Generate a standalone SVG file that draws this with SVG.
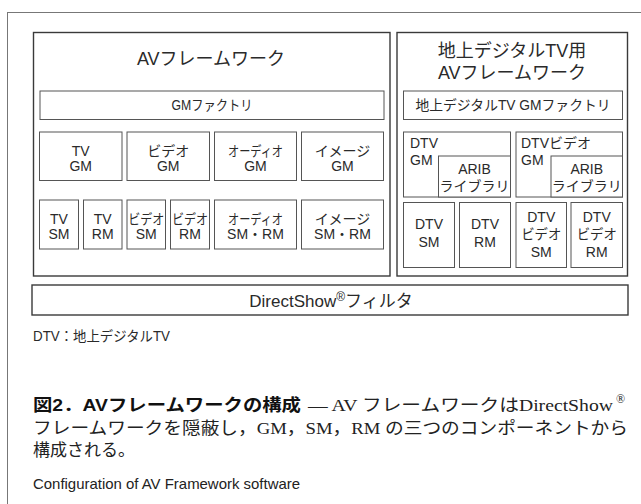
<svg xmlns="http://www.w3.org/2000/svg" width="641" height="504" viewBox="0 0 641 504">
<style>
.frame{fill:none;stroke:#777;stroke-width:1}
.big{fill:#fff;stroke:#3a3a3a;stroke-width:1.4}
.box{fill:#fff;stroke:#555;stroke-width:1}
text{font-family:"Liberation Sans","Noto Sans CJK JP",sans-serif;fill:#2a2a2a}
.t14{font-size:14px;text-anchor:middle}
.t14l{font-size:14px;text-anchor:start}
.title{font-size:18px;text-anchor:middle}
.cap{font-family:"Liberation Serif","Noto Sans CJK JP",serif;font-size:17px;fill:#222}
.capb{font-family:"Liberation Sans","Noto Sans CJK JP",sans-serif;font-size:17px;font-weight:bold;fill:#111}
</style>
<rect width="641" height="504" fill="#fff"/>
<rect class="frame" x="7.5" y="12.5" width="700" height="600"/>

<g id="av-framework">
<rect class="big" x="33.5" y="32.5" width="356.5" height="243.5"/>
<text class="title" x="211" y="65">AVフレームワーク</text>
</g>
<g id="gm-factory">
<rect class="box" x="40" y="91" width="344" height="28.5"/>
<text class="t14" x="212" y="110" textLength="81" lengthAdjust="spacingAndGlyphs">GMファクトリ</text>
</g>
<g id="tv-gm">
<rect class="box" x="39.5" y="132" width="82.5" height="48.5"/>
<text class="t14" x="80.75" y="156">TV</text><text class="t14" x="80.75" y="171">GM</text>
</g>
<g id="video-gm">
<rect class="box" x="127" y="132" width="82.5" height="48.5"/>
<text class="t14" x="168.25" y="156">ビデオ</text><text class="t14" x="168.25" y="171">GM</text>
</g>
<g id="audio-gm">
<rect class="box" x="214.5" y="132" width="82" height="48.5"/>
<text class="t14" x="255.5" y="156" textLength="55" lengthAdjust="spacingAndGlyphs">オーディオ</text><text class="t14" x="255.5" y="171">GM</text>
</g>
<g id="image-gm">
<rect class="box" x="301.5" y="132" width="82" height="48.5"/>
<text class="t14" x="342.5" y="156">イメージ</text><text class="t14" x="342.5" y="171">GM</text>
</g>
<g id="tv-sm">
<rect class="box" x="39.5" y="200" width="39" height="49"/>
<text class="t14" x="59" y="224">TV</text><text class="t14" x="59" y="239">SM</text>
</g>
<g id="tv-rm">
<rect class="box" x="83.5" y="200" width="38.5" height="49"/>
<text class="t14" x="102.75" y="224">TV</text><text class="t14" x="102.75" y="239">RM</text>
</g>
<g id="video-sm">
<rect class="box" x="127" y="200" width="38.5" height="49"/>
<text class="t14" x="146.25" y="224" textLength="36" lengthAdjust="spacingAndGlyphs">ビデオ</text><text class="t14" x="146.25" y="239">SM</text>
</g>
<g id="video-rm">
<rect class="box" x="170.5" y="200" width="39" height="49"/>
<text class="t14" x="190" y="224" textLength="36" lengthAdjust="spacingAndGlyphs">ビデオ</text><text class="t14" x="190" y="239">RM</text>
</g>
<g id="audio-smrm">
<rect class="box" x="214.5" y="200" width="82" height="49"/>
<text class="t14" x="255.5" y="224" textLength="55" lengthAdjust="spacingAndGlyphs">オーディオ</text><text class="t14" x="255.5" y="239">SM・RM</text>
</g>
<g id="image-smrm">
<rect class="box" x="301.5" y="200" width="82" height="49"/>
<text class="t14" x="342.5" y="224">イメージ</text><text class="t14" x="342.5" y="239">SM・RM</text>
</g>

<g id="dtv-av-framework">
<rect class="big" x="397" y="32.5" width="230.5" height="243.5"/>
<text class="title" x="512" y="56.5">地上デジタルTV用</text>
<text class="title" x="512" y="78.5">AVフレームワーク</text>
</g>
<g id="dtv-gm-factory">
<rect class="box" x="403.5" y="91" width="219" height="28.5"/>
<text class="t14" x="513" y="110" textLength="195" lengthAdjust="spacingAndGlyphs">地上デジタルTV GMファクトリ</text>
</g>
<g id="dtv-gm">
<rect class="box" x="403.5" y="132" width="107" height="65"/>
<text class="t14l" x="410" y="147.5">DTV</text><text class="t14l" x="410" y="165">GM</text>
</g>
<g id="arib-1">
<rect class="box" x="438.5" y="156" width="72" height="41"/>
<text class="t14" x="474.5" y="173.5">ARIB</text><text class="t14" x="474.5" y="190.5">ライブラリ</text>
</g>
<g id="dtv-video-gm">
<rect class="box" x="516" y="132" width="106.5" height="65"/>
<text class="t14l" x="521" y="147.5">DTVビデオ</text><text class="t14l" x="521" y="165">GM</text>
</g>
<g id="arib-2">
<rect class="box" x="551" y="156" width="71.5" height="41"/>
<text class="t14" x="586.75" y="173.5">ARIB</text><text class="t14" x="586.75" y="190.5">ライブラリ</text>
</g>
<g id="dtv-sm">
<rect class="box" x="403.5" y="202.5" width="51" height="65"/>
<text class="t14" x="429" y="229">DTV</text><text class="t14" x="429" y="246.5">SM</text>
</g>
<g id="dtv-rm">
<rect class="box" x="459.5" y="202.5" width="51" height="65"/>
<text class="t14" x="485" y="229">DTV</text><text class="t14" x="485" y="246.5">RM</text>
</g>
<g id="dtv-video-sm">
<rect class="box" x="516" y="202.5" width="50.5" height="65"/>
<text class="t14" x="541.25" y="221.5">DTV</text><text class="t14" x="541.25" y="238.5" textLength="40" lengthAdjust="spacingAndGlyphs">ビデオ</text><text class="t14" x="541.25" y="256.5">SM</text>
</g>
<g id="dtv-video-rm">
<rect class="box" x="571" y="202.5" width="51.5" height="65"/>
<text class="t14" x="596.75" y="221.5">DTV</text><text class="t14" x="596.75" y="238.5" textLength="40" lengthAdjust="spacingAndGlyphs">ビデオ</text><text class="t14" x="596.75" y="256.5">RM</text>
</g>

<g id="directshow">
<rect class="big" x="32" y="285" width="596" height="30"/>
<text x="331" y="306.5" style="font-size:17px;text-anchor:middle">DirectShow<tspan style="font-size:12px" dy="-6">®</tspan><tspan dy="6">フィルタ</tspan></text>
</g>

<g id="connectors"></g>

<text x="33" y="341" style="font-size:14px" textLength="137" lengthAdjust="spacingAndGlyphs">DTV：地上デジタルTV</text>

<text class="capb" x="33" y="411" textLength="268" lengthAdjust="spacingAndGlyphs">図2．AVフレームワークの構成</text>
<text class="cap" x="308" y="411" textLength="305" lengthAdjust="spacingAndGlyphs">— AV フレームワークはDirectShow</text>
<text class="cap" x="616" y="403" style="font-size:12px">®</text>
<text class="cap" x="33" y="434" textLength="595" lengthAdjust="spacingAndGlyphs">フレームワークを隠蔽し，GM，SM，RM の三つのコンポーネントから</text>
<text class="cap" x="33" y="456">構成される。</text>
<text x="33" y="489" style="font-size:15px;fill:#222" textLength="267" lengthAdjust="spacingAndGlyphs">Configuration of AV Framework software</text>
</svg>
